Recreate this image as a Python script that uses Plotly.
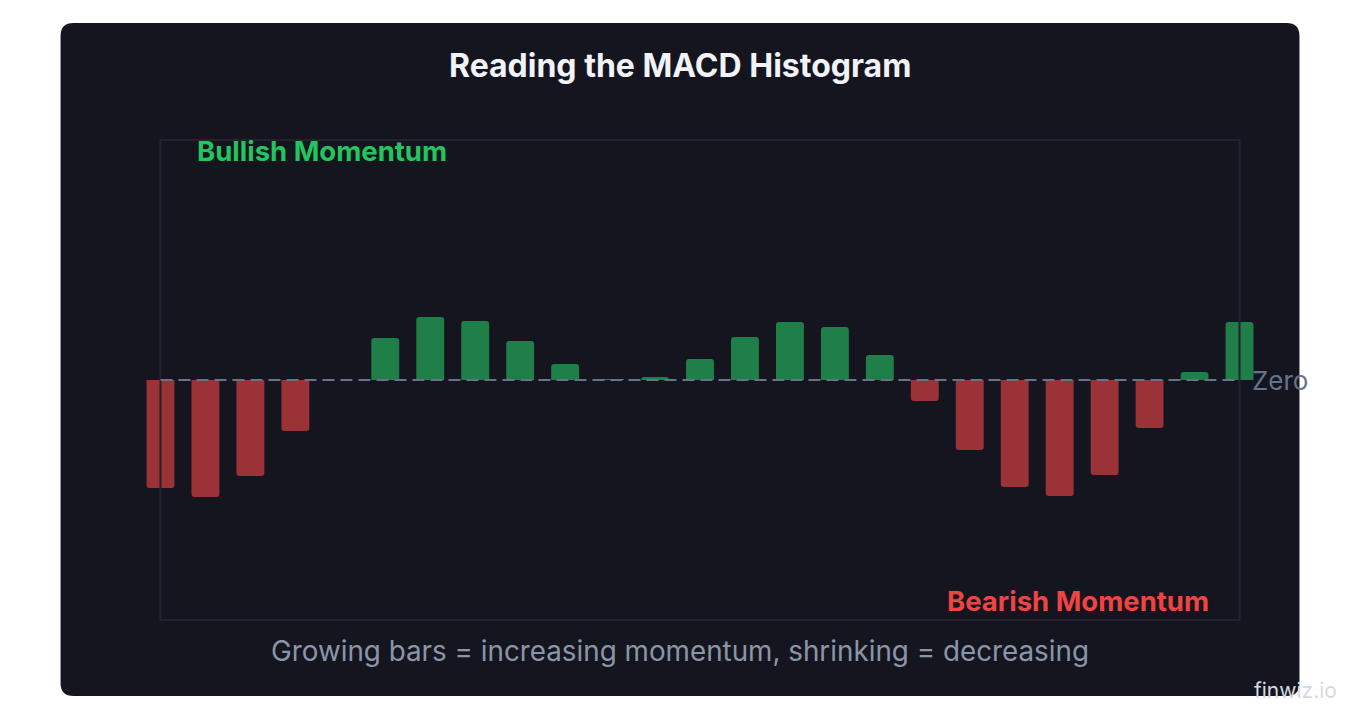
import plotly.graph_objects as go

# Data
periods = list(range(25))
histogram = [-0.54, -0.585, -0.48, -0.255, 0.0, 0.21, 0.315, 0.295, 0.195, 0.08,
             0.003, 0.015, 0.105, 0.215, 0.29, 0.265, 0.125, -0.105, -0.35, -0.535,
             -0.58, -0.475, -0.24, 0.04, 0.29]
title_text = "Reading the MACD Histogram"
bull_label = "Bullish Momentum"
bear_label = "Bearish Momentum"
caption = "Growing bars = increasing momentum, shrinking = decreasing"
zero_label = "Zero"
watermark = "finwiz.io"

W, H = 1360, 720
OFF = 8  # page body margin
L, T = 137.5 - OFF, 140 - OFF
R, B = W - (1262.5 - OFF), H - (620 - OFF)
PW, PH = W - L - R, H - T - B


def px(x):
    return (x - OFF - L) / PW


def py(y):
    return 1 - (y - OFF - T) / PH


GREEN = "#1e8048"
RED = "#9b3237"
colors = [GREEN if v >= 0 else RED for v in histogram]

fig = go.Figure()
fig.add_trace(go.Bar(x=periods, y=histogram, marker=dict(color=colors, line=dict(width=0)),
                     width=0.62, hoverinfo="skip", cliponaxis=False))

# card rounded rectangle
x0, x1, y0, y1, r = 60, 1300, 23, 696, 13
pts = [
    f"M {px(x0 + r)} {py(y0)}",
    f"L {px(x1 - r)} {py(y0)}",
    f"Q {px(x1)} {py(y0)} {px(x1)} {py(y0 + r)}",
    f"L {px(x1)} {py(y1 - r)}",
    f"Q {px(x1)} {py(y1)} {px(x1 - r)} {py(y1)}",
    f"L {px(x0 + r)} {py(y1)}",
    f"Q {px(x0)} {py(y1)} {px(x0)} {py(y1 - r)}",
    f"L {px(x0)} {py(y0 + r)}",
    f"Q {px(x0)} {py(y0)} {px(x0 + r)} {py(y0)}",
    "Z",
]
shapes = [
    dict(type="path", xref="paper", yref="paper", path=" ".join(pts),
         fillcolor="#15151f", line=dict(width=0), layer="below"),
    dict(type="rect", xref="x", yref="paper", x0=0, x1=24, y0=0, y1=1,
         line=dict(color="#23232f", width=2), layer="above"),
    dict(type="line", xref="x", yref="y", x0=0, x1=24, y0=0, y1=0,
         line=dict(color="#67738a", width=2, dash="12px,6px"), layer="above"),
]

FONT = "Inter, Noto Sans, sans-serif"
annotations = [
    dict(text=f"<b>{title_text}</b>", x=px(680), y=py(65), xref="paper", yref="paper",
         showarrow=False, xanchor="center", yanchor="middle",
         font=dict(family=FONT, size=32, color="#f1f3f8")),
    dict(text=f"<b>{bull_label}</b>", x=px(195), y=py(151), xref="paper", yref="paper",
         showarrow=False, xanchor="left", yanchor="middle",
         font=dict(family=FONT, size=27.5, color="#22c55e")),
    dict(text=f"<b>{bear_label}</b>", x=px(1211), y=py(601), xref="paper", yref="paper",
         showarrow=False, xanchor="right", yanchor="middle",
         font=dict(family=FONT, size=27.5, color="#ef4444")),
    dict(text=caption, x=px(680), y=py(651), xref="paper", yref="paper",
         showarrow=False, xanchor="center", yanchor="middle",
         font=dict(family=FONT, size=27.8, color="#8b95a8")),
    dict(text=zero_label, x=px(1250), y=0, xref="paper", yref="y",
         showarrow=False, xanchor="left", yanchor="middle",
         font=dict(family=FONT, size=26, color="#64748b")),
    dict(text=watermark, x=px(1340), y=py(690), xref="paper", yref="paper",
         showarrow=False, xanchor="right", yanchor="middle",
         font=dict(family=FONT, size=21, color="#d6dadf")),
]

fig.update_layout(
    width=W, height=H,
    margin=dict(l=L, r=R, t=T, b=B, pad=0),
    paper_bgcolor="#ffffff",
    plot_bgcolor="rgba(0,0,0,0)",
    showlegend=False,
    barcornerradius=3,
    xaxis=dict(range=[-0.5, 24.5], visible=False, fixedrange=True),
    yaxis=dict(range=[-1.2, 1.2], visible=False, fixedrange=True),
    shapes=shapes,
    annotations=annotations,
)

fig.write_html("out.html", config={"displayModeBar": False})
